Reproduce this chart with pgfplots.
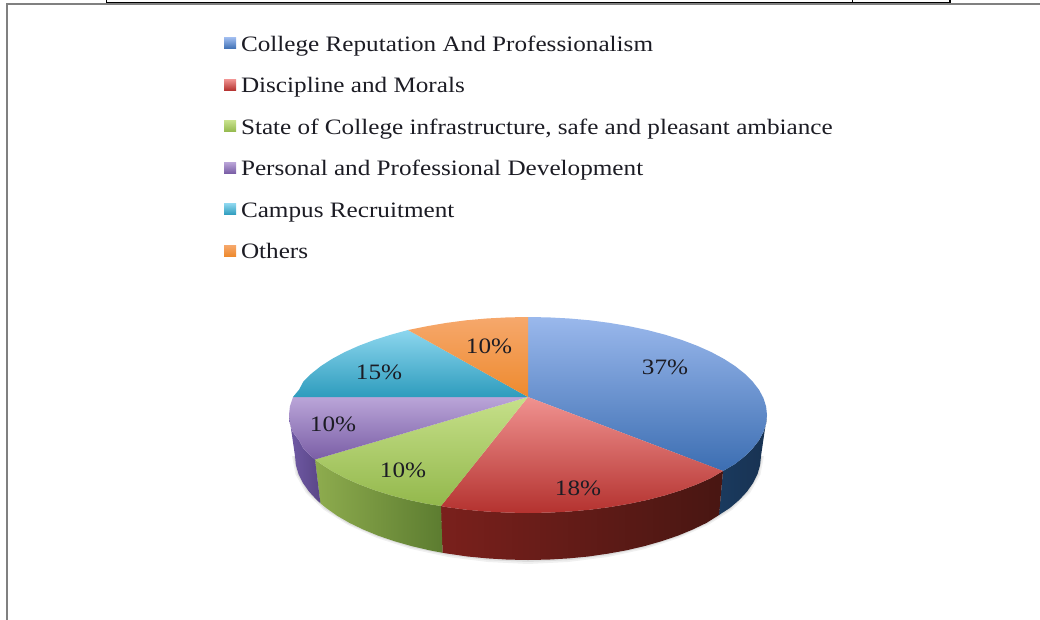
\documentclass[border=0pt]{standalone}
\usepackage{fontspec}
\setmainfont[FakeStretch=1.145]{Liberation Serif}
\usepackage{pgfplots}
\pgfplotsset{compat=1.18}
\definecolor{txt}{HTML}{1C1C24}
\definecolor{bsL}{RGB}{26,58,94}\definecolor{bsR}{RGB}{24,50,82}
\definecolor{rsL}{RGB}{122,32,28}\definecolor{rsR}{RGB}{72,22,18}
\definecolor{gsL}{RGB}{142,172,78}\definecolor{gsR}{RGB}{92,124,48}
\definecolor{psL}{RGB}{112,90,165}\definecolor{psR}{RGB}{90,70,135}
\definecolor{bT}{RGB}{154,184,236}\definecolor{bB}{RGB}{60,110,178}
\definecolor{rT}{RGB}{240,146,144}\definecolor{rB}{RGB}{180,50,47}
\definecolor{gT}{RGB}{198,224,138}\definecolor{gB}{RGB}{147,184,76}
\definecolor{pT}{RGB}{186,165,216}\definecolor{pB}{RGB}{122,94,166}
\definecolor{cT}{RGB}{140,214,238}\definecolor{cB}{RGB}{46,156,189}
\definecolor{oT}{RGB}{246,168,108}\definecolor{oB}{RGB}{238,138,46}
\begin{document}
\begin{tikzpicture}
\path[use as bounding box] (0,0) rectangle (1040pt,620pt);
\begin{axis}[
  width=1040pt,height=620pt,scale only axis,
  xmin=0,xmax=1040,ymin=0,ymax=620,y dir=reverse,
  axis lines=none,
  legend cell align=left,
  legend image code/.code={\path[#1] (0pt,-2.5pt) rectangle (12pt,8.5pt);},
  legend style={draw=none,fill=none,at={(axis cs:224,36.5)},anchor=north west,
    font=\fontsize{22}{22}\selectfont\color{txt},row sep=21.4pt,column sep=5pt,inner sep=0pt,outer sep=0pt,
    nodes={text height=15pt,text depth=5pt,inner sep=0pt,inner xsep=0pt}},
]
% frame lines
\addplot[forget plot,color=gray,line width=2pt] coordinates {(7,620)(7,4)(1040,4)};
\addplot[forget plot,color=black,line width=1.2pt] coordinates {(106.5,0)(106.5,2.4)(950,2.4)(950,0)};
\addplot[forget plot,color=black,line width=1.2pt] coordinates {(852.5,0)(852.5,2.4)};
% soft shadow
\addplot[forget plot,draw=none,fill=black,fill opacity=0.06] coordinates {(764,456)(760.5,474.5)(750,493)(732,510)(708,525)(679,538)(645,549)(608,557)(568,562)(528,564)(488,562)(448,557)(411,549)(377,538)(348,525)(324,510)(306,493)(295.5,474.5)(292,456)};
\addplot[forget plot,draw=none,fill=black,fill opacity=0.08] coordinates {(762.5,456)(759,474.3)(748.5,492.3)(731,509)(707,524)(678.5,536.8)(645,547.5)(608,555.3)(568.3,560.2)(528,562)(487.8,560.2)(448.2,555.3)(411.3,547.5)(377.8,536.8)(348.5,524)(325,509)(307.5,492.3)(297,474.3)(293.5,456)};
% sides
\addplot[forget plot,draw=none,left color=bsL,right color=bsR] coordinates {(767,415)(766.1,423.5)(763.4,432)(758.9,440.4)(752.6,448.5)(744.6,456.4)(735,464)(723,471)(719,515)(729.8,508)(739.2,500)(747,491.6)(753.1,482.9)(757.5,474.1)(760.1,465.1)(761,456)} -- cycle;
\addplot[forget plot,draw=none,left color=rsL,right color=rsR] coordinates {(723,471)(711.1,478)(697,484.3)(681.6,490.1)(665.1,495.3)(647.5,499.9)(629,503.8)(609.7,507.1)(589.9,509.7)(569.5,511.5)(548.8,512.6)(528,513)(507.2,512.6)(486.5,511.5)(466.1,509.7)(446.3,507.1)(441,506)(442.5,552.8)(448.3,553.7)(467.7,556.5)(487.6,558.4)(507.7,559.6)(528,560)(548.3,559.6)(568.4,558.4)(588.3,556.5)(607.7,553.7)(626.5,550.3)(644.5,546.1)(661.6,541.2)(677.8,535.7)(692.8,529.5)(706.5,522.9)(719,515)} -- cycle;
\addplot[forget plot,draw=none,left color=gsL,right color=gsR] coordinates {(441,506)(427,503.8)(408.5,499.9)(390.9,495.3)(374.4,490.1)(359,484.3)(344.9,478)(332.2,471.2)(321,464)(315,459.5)(320.4,503.2)(326.2,508)(337.1,515.7)(349.5,522.9)(363.2,529.5)(378.2,535.7)(394.4,541.2)(411.5,546.1)(429.5,550.3)(442.5,552.8)} -- cycle;
\addplot[forget plot,draw=none,left color=psL,right color=psR] coordinates {(315,459.5)(311.4,456.4)(303.4,448.5)(299.1,440.4)(292.6,432)(289.9,423.5)(289,415)(295,456)(295.9,465.1)(298.5,474.1)(302.9,482.9)(309,491.6)(316.8,500)(320.4,503.2)} -- cycle;
% top faces
\addplot[draw=none,top color=bT,bottom color=bB] coordinates {(528,397)(528,317)(548.8,317.4)(569.5,318.5)(589.9,320.3)(609.7,322.9)(629,326.2)(647.5,330.1)(665.1,334.7)(681.6,339.9)(697,345.7)(711.1,352)(723.8,358.8)(735,366)(744.6,373.6)(752.6,381.5)(758.9,389.6)(763.4,398)(766.1,406.5)(767,415)(766.1,423.5)(763.4,432)(758.9,440.4)(752.6,448.5)(744.6,456.4)(735,464)(723,471)} -- cycle;
\addlegendentry{College Reputation And Professionalism}
\addplot[draw=none,top color=rT,bottom color=rB] coordinates {(528,397)(723,471)(711.1,478)(697,484.3)(681.6,490.1)(665.1,495.3)(647.5,499.9)(629,503.8)(609.7,507.1)(589.9,509.7)(569.5,511.5)(548.8,512.6)(528,513)(507.2,512.6)(486.5,511.5)(466.1,509.7)(446.3,507.1)(441,506)} -- cycle;
\addlegendentry{Discipline and Morals}
\addplot[draw=none,top color=gT,bottom color=gB] coordinates {(528,397)(441,506)(427,503.8)(408.5,499.9)(390.9,495.3)(374.4,490.1)(359,484.3)(344.9,478)(332.2,471.2)(321,464)(315,459.5)} -- cycle;
\addlegendentry{State of College infrastructure, safe and pleasant ambiance}
\addplot[draw=none,top color=pT,bottom color=pB] coordinates {(528,397)(315,459.5)(311.4,456.4)(303.4,448.5)(299.1,440.4)(292.6,432)(289.9,423.5)(289,415)(289.9,406.5)(293,397)} -- cycle;
\addlegendentry{Personal and Professional Development}
\addplot[draw=none,top color=cT,bottom color=cB] coordinates {(528,397)(293,397)(299.1,389.6)(303.4,381.5)(311.4,373.6)(321,366)(332.2,358.8)(344.9,352)(359,345.7)(374.4,339.9)(390.9,334.7)(408,330)} -- cycle;
\addlegendentry{Campus Recruitment}
\addplot[draw=none,top color=oT,bottom color=oB] coordinates {(528,397)(408,330)(427,326.2)(446.3,322.9)(466.1,320.3)(486.5,318.5)(507.2,317.4)(528,317)} -- cycle;
\addlegendentry{Others}
% percentage labels
\addplot[forget plot,draw=none,mark=none,point meta=explicit symbolic,nodes near coords,
  nodes near coords style={anchor=center,inner sep=0pt,font=\fontsize{22}{22}\selectfont,text=txt}]
  coordinates {(665,367)[37\%] (578,488)[18\%] (403,470)[10\%] (333,424)[10\%] (379,372)[15\%] (489,346)[10\%]};
\end{axis}
\end{tikzpicture}
\end{document}
